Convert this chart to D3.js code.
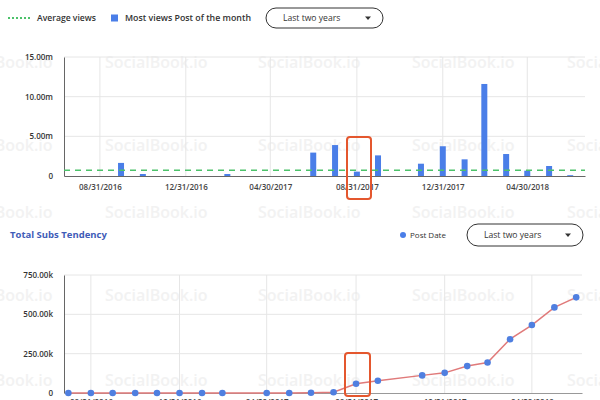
<!DOCTYPE html>
<html><head><meta charset="utf-8">
<script src="https://cdn.jsdelivr.net/npm/d3@7"></script>
<style>
html,body{margin:0;padding:0;background:#fff;overflow:hidden}
svg{display:block;font-family:"Open Sans","Lato",sans-serif}
</style></head><body>
<svg id="c" width="600" height="400"></svg>
<script>
// ---- data ----
const barMonths = ["2016-09-30","2016-10-31","2017-02-28","2017-06-30","2017-07-31","2017-08-31","2017-09-30","2017-11-30","2017-12-31","2018-01-31","2018-02-28","2018-03-31","2018-04-30","2018-05-31","2018-06-30"];
const barViews = [1.65,0.25,0.25,2.95,3.9,0.55,2.6,1.55,3.75,2.1,11.6,2.77,0.67,1.26,0.1]; // millions
const averageViews = 0.72; // millions
const lineMonths = ["2016-07-31","2016-08-31","2016-09-30","2016-10-31","2016-11-30","2016-12-31","2017-01-31","2017-02-28","2017-04-30","2017-05-31","2017-06-30","2017-07-31","2017-08-31","2017-09-30","2017-11-30","2017-12-31","2018-01-31","2018-02-28","2018-03-31","2018-04-30","2018-05-31","2018-06-30"];
const lineSubs = [0,0,0,0,0,0,0,0,0,0,2,5,59,78,112,128,171,194,342,432,544,608]; // thousands
const tickDates = ["2016-08-31","2016-12-31","2017-04-30","2017-08-31","2017-12-31","2018-04-30"];
const topYTicks = [0,5,10,15];
const topYLabels = ["0","5.00m","10.00m","15.00m"];
const botYTicks = [0,250,500,750];
const botYLabels = ["0","250.00k","500.00k","750.00k"];
const legendTop = ["Average views","Most views Post of the month"];
const dropdownText = "Last two years";
const bottomTitle = "Total Subs Tendency";
const bottomLegend = "Post Date";
const watermark = "SocialBook.io";

const P = d3.timeParse("%Y-%m-%d");
const fmt = d3.timeFormat("%m/%d/%Y");
const svg = d3.select("#c");

// watermarks
const wmRows=[62,145,212,295,380], wmCols=[-50,105,258,412,567];
const wm = svg.append("g");
wmRows.forEach(y=>wmCols.forEach(x=>{
  wm.append("text").attr("x",x).attr("y",y).attr("dy","0.35em")
    .attr("font-size",16).attr("font-weight",600).attr("fill","#f2f2f2").text(watermark);
}));

// ---- top legend ----
const lg = svg.append("g");
lg.append("line").attr("x1",8).attr("x2",30).attr("y1",18).attr("y2",18)
  .attr("stroke","#4cc26a").attr("stroke-width",2).attr("stroke-dasharray","2,2");
lg.append("text").attr("x",37).attr("y",18).attr("dy","0.35em").attr("font-size",8.6).attr("font-weight",600).attr("fill","#333").text(legendTop[0]);
lg.append("rect").attr("x",111).attr("y",14.5).attr("width",7).attr("height",7).attr("fill","#4a7ee8");
lg.append("text").attr("x",125).attr("y",18).attr("dy","0.35em").attr("font-size",8.8).attr("font-weight",600).attr("fill","#333").text(legendTop[1]);
function dropdown(x,y,w,h){
  const g=svg.append("g");
  g.append("rect").attr("x",x).attr("y",y).attr("width",w).attr("height",h).attr("rx",h/2)
    .attr("fill","#fff").attr("stroke","#333").attr("stroke-width",1);
  g.append("text").attr("x",x+17).attr("y",y+h/2).attr("dy","0.35em").attr("font-size",8.6).attr("font-weight",500).attr("fill","#333").text(dropdownText);
  g.append("path").attr("d",`M${x+w-18},${y+h/2-1.5}l6,0l-3,3.5z`).attr("fill","#333");
}
dropdown(266,8,117,20);

// ---- top chart ----
const L=64, Rt=585;
const xT = d3.scaleTime().domain([P("2016-07-11"),P("2018-07-21")]).range([L,Rt]);
const yT = d3.scaleLinear().domain([0,15]).range([176,57]);
const gT = svg.append("g");
gT.selectAll(".hg").data(topYTicks.slice(1)).join("line")
  .attr("x1",L).attr("x2",Rt).attr("y1",d=>yT(d)).attr("y2",d=>yT(d)).attr("stroke","#e6e6e6");
gT.selectAll(".vg").data(tickDates.map(P)).join("line")
  .attr("x1",d=>xT(d)).attr("x2",d=>xT(d)).attr("y1",57).attr("y2",176).attr("stroke","#e6e6e6");
const yAxT = d3.axisLeft(yT).tickValues(topYTicks).tickFormat((d,i)=>topYLabels[i]).tickSize(0).tickPadding(11);
const ya = gT.append("g").attr("transform",`translate(${L},0)`).call(yAxT);
ya.select(".domain").attr("stroke","#666");
ya.selectAll("text").attr("font-size",8).attr("font-weight",600).attr("fill","#333").attr("font-family","Open Sans");
const xAxT = d3.axisBottom(xT).tickValues(tickDates.map(P)).tickFormat(fmt).tickSize(0).tickPadding(8);
const xa = gT.append("g").attr("transform",`translate(0,176)`).call(xAxT);
xa.select(".domain").attr("stroke","#666");
xa.selectAll("text").attr("font-size",8).attr("font-weight",600).attr("fill","#444").attr("font-family","Open Sans");
gT.selectAll(".bar").data(barViews).join("rect")
  .attr("x",(d,i)=>xT(P(barMonths[i]))-3).attr("width",6)
  .attr("y",d=>yT(d)).attr("height",d=>176-yT(d)).attr("fill","#4a7ee8");
gT.append("line").attr("x1",L).attr("x2",Rt).attr("y1",yT(averageViews)).attr("y2",yT(averageViews))
  .attr("stroke","#4cc26a").attr("stroke-width",1.6).attr("stroke-dasharray","6,5");
svg.append("rect").attr("x",347).attr("y",137).attr("width",24).attr("height",62).attr("rx",3)
  .attr("fill","none").attr("stroke","#e4572e").attr("stroke-width",2);

// ---- bottom header ----
svg.append("text").attr("x",10).attr("y",235).attr("dy","0.35em").attr("font-size",9.5).attr("font-weight",700).attr("fill","#3f5cb8").text(bottomTitle);
svg.append("circle").attr("cx",403).attr("cy",235).attr("r",3).attr("fill","#4a7ee8");
svg.append("text").attr("x",410).attr("y",235).attr("dy","0.35em").attr("font-size",8).attr("font-weight",500).attr("fill","#333").text(bottomLegend);
dropdown(467,224,116,22);

// ---- bottom chart ----
const Rb=582;
const xB = d3.scaleTime().domain([P("2016-07-25"),P("2018-07-08")]).range([L,Rb]);
const yB = d3.scaleLinear().domain([0,750]).range([393,275]);
const gB = svg.append("g");
gB.selectAll(".hg").data(botYTicks.slice(1)).join("line")
  .attr("x1",L).attr("x2",Rb).attr("y1",d=>yB(d)).attr("y2",d=>yB(d)).attr("stroke","#e6e6e6");
gB.selectAll(".vg").data(tickDates.map(P)).join("line")
  .attr("x1",d=>xB(d)).attr("x2",d=>xB(d)).attr("y1",275).attr("y2",393).attr("stroke","#e6e6e6");
const yb = gB.append("g").attr("transform",`translate(${L},0)`)
  .call(d3.axisLeft(yB).tickValues(botYTicks).tickFormat((d,i)=>botYLabels[i]).tickSize(0).tickPadding(11));
yb.select(".domain").attr("stroke","#666");
yb.selectAll("text").attr("font-size",8).attr("font-weight",600).attr("fill","#333").attr("font-family","Open Sans");
const xb = gB.append("g").attr("transform",`translate(0,393)`)
  .call(d3.axisBottom(xB).tickValues(tickDates.map(P)).tickFormat(fmt).tickSize(0).tickPadding(6));
xb.select(".domain").attr("stroke","#999");
xb.selectAll("text").attr("font-size",8).attr("font-weight",600).attr("fill","#444").attr("font-family","Open Sans");
const pts = lineSubs.map((v,i)=>[P(lineMonths[i]),v]);
gB.append("path").datum(pts).attr("fill","none").attr("stroke","#e07a7a").attr("stroke-width",1.5)
  .attr("d",d3.line().x(d=>xB(d[0])).y(d=>yB(d[1])));
gB.selectAll(".pt").data(pts).join("circle").attr("cx",d=>xB(d[0])).attr("cy",d=>yB(d[1])).attr("r",3.3).attr("fill","#4f7fe0");
svg.append("rect").attr("x",345).attr("y",353).attr("width",25).attr("height",43).attr("rx",3)
  .attr("fill","none").attr("stroke","#e4572e").attr("stroke-width",2);
</script></body></html>
